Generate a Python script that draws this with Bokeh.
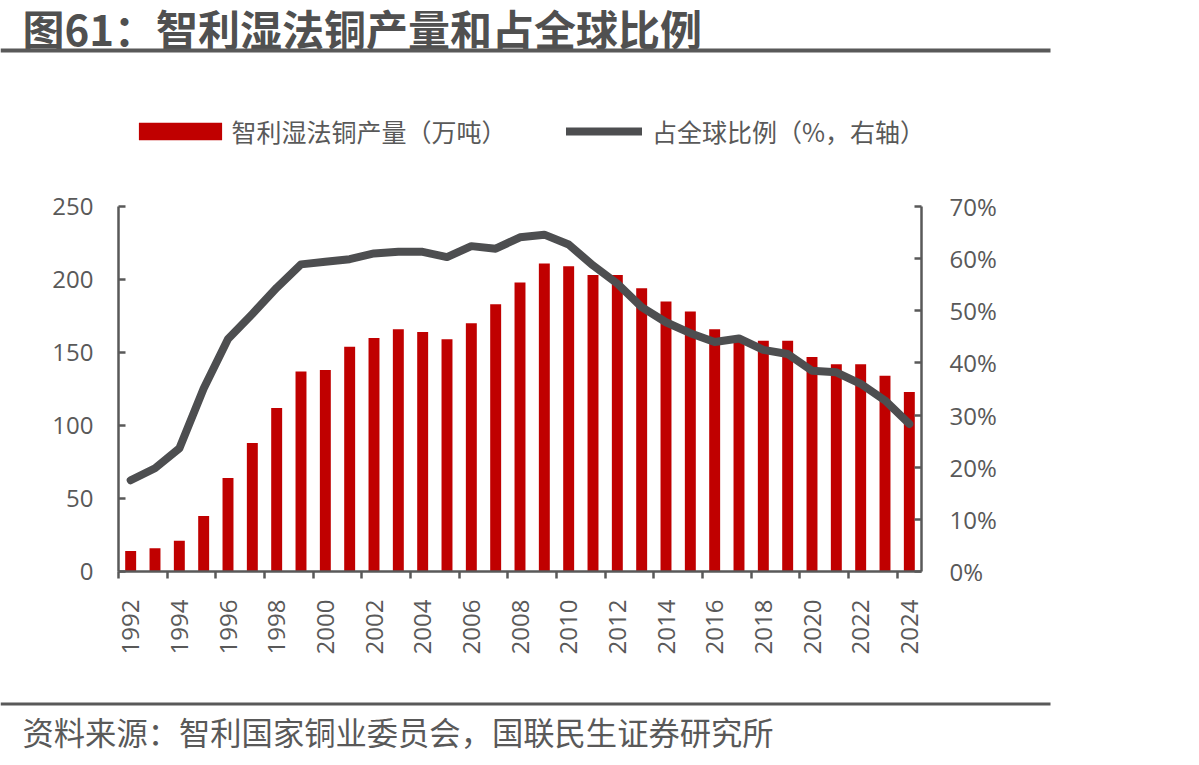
import math

from bokeh.plotting import figure
from bokeh.layouts import column
from bokeh.models import (Range1d, LinearAxis, FixedTicker, Legend, LegendItem,
                          Label, BoxAnnotation, ColumnDataSource)
from bokeh.embed import file_html
from bokeh.resources import INLINE

# 智利湿法铜产量（万吨）与占全球比例（%）
years = list(range(1992, 2025))
output_10kt = [14, 16, 21, 38, 64, 88, 112, 137, 138, 154,
               160, 166, 164, 159, 170, 183, 198, 211, 209, 203,
               203, 194, 185, 178, 166, 159, 158, 158, 147, 142,
               142, 134, 123]
share_pct = [17.5, 19.8, 23.6, 35.1, 44.6, 49.4, 54.4, 58.9, 59.4, 59.9,
             61.0, 61.3, 61.3, 60.3, 62.4, 61.9, 64.1, 64.6, 62.7, 58.7,
             55.2, 50.7, 47.8, 45.7, 44.0, 44.7, 42.5, 41.7, 38.5, 38.2,
             36.0, 32.8, 28.3]
left_ticks = [0, 50, 100, 150, 200, 250]
right_ticks = [0, 10, 20, 30, 40, 50, 60, 70]
year_ticks = years[::2]
year_bounds = [y - 0.5 for y in years[::2]]

title_text = "图61：智利湿法铜产量和占全球比例"
source_text = "资料来源：智利国家铜业委员会，国联民生证券研究所"
bar_label = "智利湿法铜产量（万吨）"
line_label = "占全球比例（%，右轴）"

CJK = "Noto Sans CJK SC"
NUM = "Open Sans"
GREY = "#595959"
RED = "#C00000"
LINE = "#4D4E50"

W = 1199
TOP_H, MAIN_H, FOOT_H = 160, 530, 75
FL, FR = 118, 921          # frame left / right
M_TOP, M_BOTTOM = 46, 119  # borders of the chart panel


def blank_panel(height):
    f = figure(width=W, height=height, output_backend="svg", toolbar_location=None,
               x_range=Range1d(0, W), y_range=Range1d(0, height),
               x_axis_type=None, y_axis_type=None, min_border=0,
               frame_align=False,
               outline_line_color=None, background_fill_color="white",
               border_fill_color="white")
    f.grid.visible = False
    return f


def rule(top, bottom):
    return BoxAnnotation(left=0, right=1050, top=top, bottom=bottom,
                         left_units="screen", right_units="screen",
                         top_units="screen", bottom_units="screen",
                         fill_color=GREY, fill_alpha=1, line_color=None)


# ---- chart panel ----
p = figure(width=W, height=MAIN_H, output_backend="svg", toolbar_location=None,
           x_range=Range1d(years[0] - 0.5, years[-1] + 0.5),
           y_range=Range1d(0, 250),
           min_border_left=FL, min_border_right=W - FR,
           min_border_top=M_TOP, min_border_bottom=M_BOTTOM,
           frame_align=False,
           outline_line_color=None, background_fill_color="white",
           border_fill_color="white")
p.grid.visible = False
p.extra_y_ranges = {"pct": Range1d(0, 70)}

bar_style = dict(fill_color=RED, line_color=None)
line_style = dict(line_color=LINE, line_width=8, line_cap="round", line_join="round")

p.vbar(x=years, top=output_10kt, width=0.45, **bar_style)
p.line(x=years, y=share_pct, y_range_name="pct", **line_style)


def style_axis(ax):
    ax.axis_line_color = GREY
    ax.axis_line_width = 2.5
    ax.major_tick_line_color = GREY
    ax.major_tick_line_width = 2.5
    ax.minor_tick_line_color = None
    ax.major_label_text_font = NUM
    ax.major_label_text_font_size = "24px"
    ax.major_label_text_color = GREY


# bottom axis: ticks on category boundaries, labels on category centres
xax = p.xaxis[0]
xax.ticker = FixedTicker(ticks=year_ticks, minor_ticks=year_bounds)
style_axis(xax)
xax.major_tick_in = 0
xax.major_tick_out = 0
xax.minor_tick_line_color = GREY
xax.minor_tick_line_width = 2.5
xax.minor_tick_in = 0
xax.minor_tick_out = 7
xax.major_label_orientation = math.pi / 2
xax.major_label_standoff = 21

yax = p.yaxis[0]
yax.ticker = FixedTicker(ticks=left_ticks)
style_axis(yax)
yax.major_tick_in = 7
yax.major_tick_out = 0
yax.major_label_standoff = 25

rax = LinearAxis(y_range_name="pct", ticker=FixedTicker(ticks=right_ticks),
                 major_label_overrides={t: f"{t}%" for t in right_ticks})
style_axis(rax)
rax.major_tick_in = 7
rax.major_tick_out = 0
rax.major_label_standoff = 28
p.add_layout(rax, "right")

# ---- heading panel: title, rule and legend ----
head = blank_panel(TOP_H)
head.add_layout(Label(x=22, y=TOP_H - 27, x_units="screen", y_units="screen",
                      text=title_text, text_font=CJK, text_font_size="42px",
                      text_font_style="bold", text_color="#505050",
                      text_baseline="middle"))
head.add_layout(rule(TOP_H - 48, TOP_H - 52))

# legend keys share the chart's glyph styles; their sources hold no drawable point
nan = float("nan")
key_bar = head.vbar(x="x", top="top", width=0.45,
                    source=ColumnDataSource(dict(x=[nan], top=[nan])), **bar_style)
key_line = head.line(x="x", y="y",
                     source=ColumnDataSource(dict(x=[nan], y=[nan])), **line_style)

legend_style = dict(orientation="horizontal", padding=0, margin=0,
                    border_line_color=None, background_fill_alpha=0,
                    label_height=18, label_text_font=CJK,
                    label_text_font_size="25px", label_text_color=GREY)
# area keys are inset by 10% of the glyph box, hence the wider box for the bar key
bar_legend = Legend(items=[LegendItem(label=bar_label, renderers=[key_bar], index=0)],
                    location=(127.6, TOP_H - 149), glyph_width=104, glyph_height=22,
                    label_standoff=-4, **legend_style)
line_legend = Legend(items=[LegendItem(label=line_label, renderers=[key_line], index=0)],
                     location=(566, TOP_H - 149), glyph_width=76, glyph_height=22,
                     label_standoff=10, **legend_style)
head.add_layout(bar_legend)
head.add_layout(line_legend)

# ---- footer panel: rule and source note ----
foot = blank_panel(FOOT_H)
foot.add_layout(rule(FOOT_H - 12, FOOT_H - 15))
foot.add_layout(Label(x=22, y=FOOT_H - 41, x_units="screen", y_units="screen",
                      text=source_text, text_font=CJK, text_font_size="31.3px",
                      text_color=GREY, text_baseline="middle"))

page = column(head, p, foot, spacing=0)
open("out.html", "w").write(file_html(page, INLINE))
